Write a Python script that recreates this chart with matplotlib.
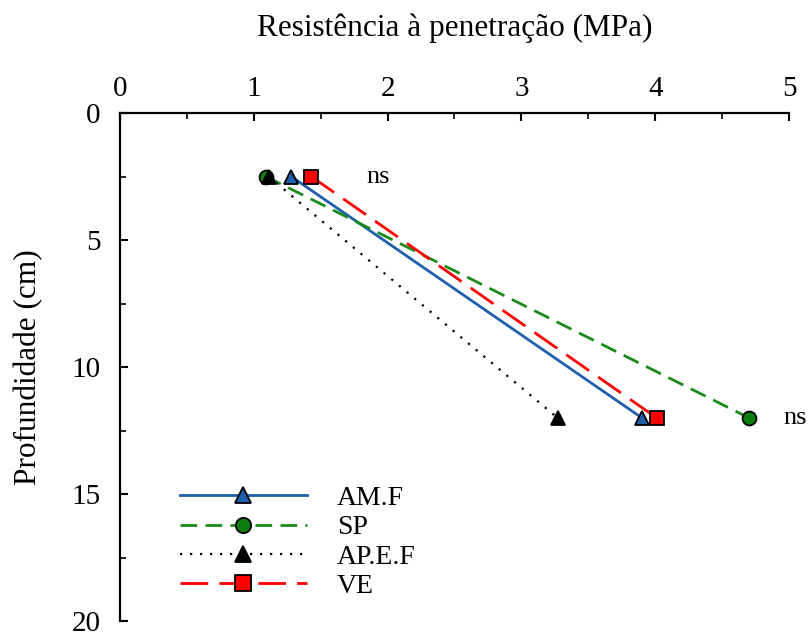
import matplotlib
matplotlib.use("Agg")
import matplotlib.pyplot as plt
from matplotlib.ticker import MultipleLocator

plt.rcParams['font.family'] = ['Liberation Serif', 'DejaVu Serif']

# Soil penetration resistance (MPa) at two sampling depths (cm)
depths = [2.5, 12.0]
series_names = ["AM.F", "SP", "AP.E.F", "VE"]
am_f = [1.28, 3.90]
sp = [1.09, 4.70]
ap_e_f = [1.11, 3.27]
ve = [1.43, 4.01]
ns_labels = [(1.84, 2.5, "ns"), (4.96, 12.0, "ns")]

TICK_FS = 21
LABEL_FS = 22.5
LEGEND_FS = 20
NOTE_FS = 19

fig = plt.figure(figsize=(8.09, 6.32), dpi=100)
ax = fig.add_axes([0.1483, 0.0174, 0.8270, 0.8038])

ax.plot(am_f, depths, color='#1f5fae', lw=2.0, ls='-', marker='^', ms=10,
        mfc='#1f5fae', mec='black', mew=1.3, label=series_names[0])
ax.plot(sp, depths, color='#1a8a1a', lw=2.0, ls=(0, (6, 3)), marker='o', ms=10,
        mfc='#0d7d0d', mec='black', mew=1.3, label=series_names[1])
ax.plot(ap_e_f, depths, color='black', lw=1.6, ls=(0, (1, 3.5)), marker='^', ms=10,
        mfc='black', mec='black', mew=1.3, label=series_names[2])
ax.plot(ve, depths, color='#ff0000', lw=2.0, ls=(0, (10, 4)), marker='s', ms=10,
        mfc='#ff0000', mec='black', mew=1.3, label=series_names[3])

for x, y, t in ns_labels:
    ax.text(x, y, t, fontsize=NOTE_FS, va='center', ha='left')

ax.set_xlim(0, 5)
ax.set_ylim(20, 0)
ax.xaxis.set_major_locator(MultipleLocator(1))
ax.xaxis.set_minor_locator(MultipleLocator(0.5))
ax.yaxis.set_major_locator(MultipleLocator(5))
ax.yaxis.set_minor_locator(MultipleLocator(2.5))
ax.xaxis.tick_top()
ax.xaxis.set_label_position('top')
ax.tick_params(axis='both', which='major', direction='in', length=6, width=1.5,
               labelsize=TICK_FS, pad=8)
ax.tick_params(axis='y', which='major', pad=14)
ax.tick_params(axis='both', which='minor', direction='in', length=4, width=1.2)
ax.tick_params(axis='x', which='both', top=True, bottom=False)
ax.tick_params(axis='y', which='both', left=True, right=False)

for side in ['right', 'bottom']:
    ax.spines[side].set_visible(False)
for side in ['top', 'left']:
    ax.spines[side].set_linewidth(1.6)

ax.set_xlabel("Resistência à penetração (MPa)", fontsize=LABEL_FS, labelpad=29)
ax.set_ylabel("Profundidade (cm)", fontsize=LABEL_FS, labelpad=20)

leg = ax.legend(loc='upper left', bbox_to_anchor=(0.069, 0.294), frameon=False,
                fontsize=LEGEND_FS, handlelength=4.57, handletextpad=1.08,
                labelspacing=0.14, borderpad=0, markerscale=1.1)

fig.savefig("out.png", dpi=100)
